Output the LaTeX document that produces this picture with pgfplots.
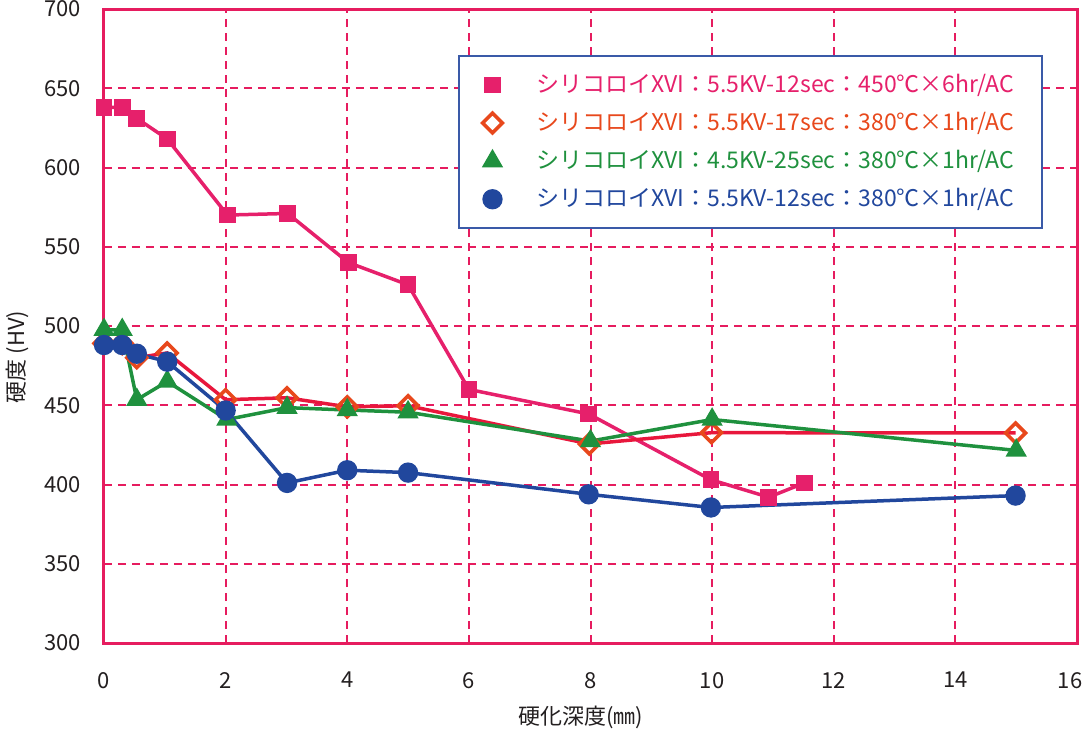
\documentclass[border=0pt]{standalone}
\usepackage{fontspec}
\setmainfont{Noto Sans CJK JP}
\usepackage{pgfplots}
\pgfplotsset{compat=1.18}
\definecolor{cpink}{HTML}{E6206B}
\definecolor{cframe}{HTML}{E61C5F}
\definecolor{corange}{HTML}{E8481C}
\definecolor{cred}{HTML}{E8173C}
\definecolor{cgreen}{HTML}{1F913E}
\definecolor{cblue}{HTML}{21479D}
\definecolor{cleg}{HTML}{3A5AA8}
\definecolor{ctext}{HTML}{231F20}
\begin{document}
\begin{tikzpicture}
\useasboundingbox (-52pt,-43pt) rectangle (489.5pt,321.5pt);
\begin{axis}[
  scale only axis,
  width=486.5pt, height=317pt,
  xmin=0, xmax=16, ymin=300, ymax=700,
  xtick={0,2,...,16}, ytick={300,350,...,700},
  xticklabels={0,2,4,6,8,10,12,14,\hspace*{-7pt}16},
  major tick length=0pt,
  axis line style={cframe, line width=1.5pt},
  grid=major,
  major grid style={cframe, line width=1pt, dash pattern=on 4pt off 3pt},
  ticklabel style={font=\fontsize{11}{13}\selectfont, text=ctext},
  /pgf/number format/assume math mode=true,
  yticklabel style={xshift=-8pt},
  xticklabel style={yshift=-11pt},
  xlabel={硬化深度(㎜)},
  ylabel={硬度 (HV)},
  label style={font=\fontsize{11}{13}\selectfont, text=ctext},
  xlabel style={at={(rel axis cs:0.49,0)}, anchor=north, yshift=-28pt},
  ylabel style={at={(rel axis cs:0,0.451)}, anchor=south, yshift=34pt},
  legend style={at={(0.965,0.927)}, anchor=north east, draw=cleg, line width=1pt,
    font=\fontsize{11.5}{13.5}\selectfont, row sep=4.4pt, inner xsep=12pt, inner ysep=7pt,
    cells={anchor=west}},
  legend image post style={only marks},
  legend cell align=left,
  clip=false,
]
\addplot[cpink, line width=1.75pt, mark=square*, mark size=3.3pt]
coordinates {(0.0,638)(0.3,638)(0.54,631)(1.04,618)(2.03,570)(3.02,571)(4.02,540)(5.0,526)(6.0,460)(7.97,444.5)(9.98,403)(10.93,392)(11.52,401)};
\addlegendentry{\hspace{15pt}\textcolor{cpink}{シリコロイXVI：5.5KV-12sec：450℃×6hr/AC}}
\addplot[cred, line width=1.75pt, mark=square, mark size=3.5pt,
  mark options={rotate=45, draw=corange, fill=white, line width=1.8pt}]
coordinates {(0.0,489)(0.3,489)(0.54,480)(1.04,483)(2.0,453.5)(3.01,454.7)(4.0,449)(5.0,449.7)(7.98,425.6)(9.99,432.7)(14.99,432.5)};
\addlegendentry{\hspace{15pt}\textcolor{corange}{シリコロイXVI：5.5KV-17sec：380℃×1hr/AC}}
\addplot[cgreen, line width=1.75pt, mark=triangle*, mark size=4.4pt]
coordinates {(0.0,497.6)(0.3,497.6)(0.54,453.5)(1.04,465)(2.02,441)(3.01,448.5)(4.0,447)(5.0,445.6)(8.0,427.4)(10.0,441)(15.0,421.5)};
\addlegendentry{\hspace{15pt}\textcolor{cgreen}{シリコロイXVI：4.5KV-25sec：380℃×1hr/AC}}
\addplot[cblue, line width=1.75pt, mark=*, mark size=4.2pt]
coordinates {(0.0,488)(0.3,488)(0.54,482.5)(1.04,477.5)(2.0,446.7)(3.01,401)(4.0,409)(5.0,407.5)(7.97,393.8)(9.98,385.5)(14.99,393)};
\addlegendentry{\hspace{15pt}\textcolor{cblue}{シリコロイXVI：5.5KV-12sec：380℃×1hr/AC}}
\end{axis}
\end{tikzpicture}
\end{document}
